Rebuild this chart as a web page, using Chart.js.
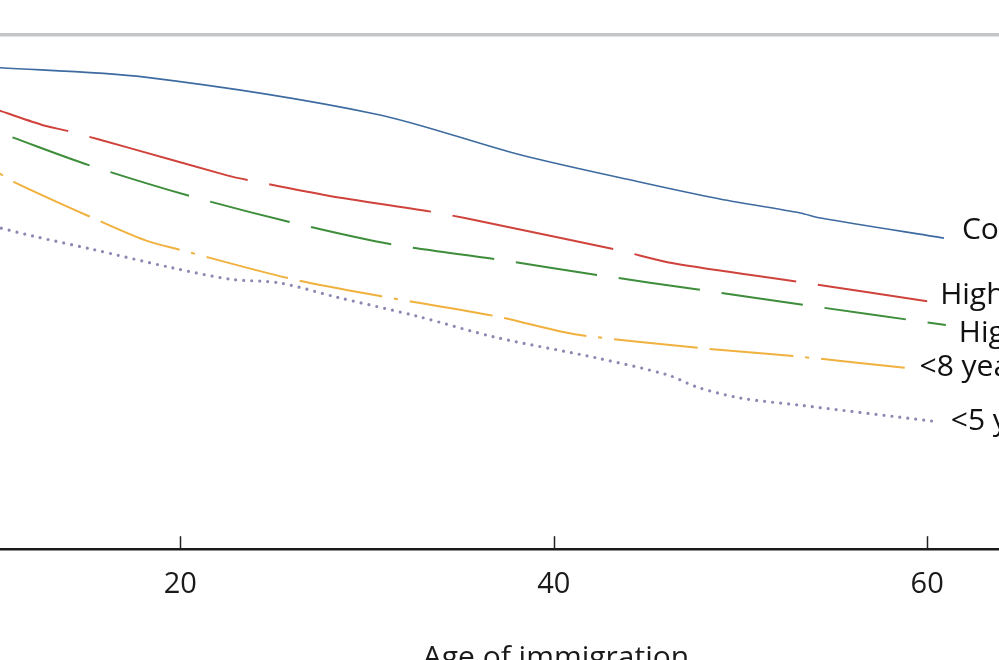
<!DOCTYPE html>
<html>
<head>
<meta charset="utf-8">
<script src="https://cdn.jsdelivr.net/npm/chart.js@4"></script>
<style>
  html, body { margin: 0; padding: 0; background: #fff; overflow: hidden; }
  #wrap { width: 999px; height: 660px; overflow: hidden; position: relative; }
  #myChart { display: block; }
</style>
</head>
<body>
<div id="wrap"><canvas id="myChart" width="1112" height="692"></canvas></div>
<script>
// age of immigration (x) and values (y) for each group
var collegeAge = [10, 18.1, 30.5, 38.2, 44.6, 48.9, 53.2, 54.3, 60.9];
var collegeVal = [93.7, 91.8, 84.6, 76.7, 71.4, 68.1, 65.4, 64.4, 60.5];

var highAge = [10, 12.6, 14.0, 17.3, 22.5, 23.6, 28.0, 33.5, 37.1, 43.4, 46.4, 53.3, 60.0];
var highVal = [85.7, 82.5, 81.3, 78.0, 72.7, 71.8, 68.7, 65.6, 63.0, 58.2, 55.6, 51.9, 48.2];

var high2Age = [10, 11.0, 15.1, 20.5, 25.9, 31.3, 36.9, 42.4, 47.9, 53.4, 61.0];
var high2Val = [81.4, 80.1, 74.7, 68.7, 63.6, 59.3, 56.4, 53.3, 50.4, 47.5, 43.6];

var eightAge = [10, 11.1, 15.2, 18.1, 20.0, 25.8, 30.9, 36.9, 40.3, 41.9, 47.9, 53.0, 59.0];
var eightVal = [73.8, 71.4, 64.6, 60.1, 58.2, 52.7, 49.1, 45.3, 42.4, 41.4, 39.1, 37.5, 35.2];

var fiveAge = [10, 12.1, 15.2, 19.6, 22.7, 25.3, 28.4, 32.7, 36.9, 42.3, 46.1, 47.7, 50.0, 53.2, 60.3];
var fiveVal = [62.8, 60.9, 58.4, 54.7, 52.5, 51.8, 49.0, 45.3, 41.2, 37.2, 33.9, 31.5, 29.4, 28.0, 24.9];

var labels = ['College graduate', 'High school graduate', 'High school dropout', '<8 years schooling', '<5 years schooling'];
var xTicks = [20, 40, 60];

function pts(xs, ys) {
    return xs.map(function (x, i) { return { x: x, y: ys[i] }; });
}

// right-hand line labels, drawn at the end of each line
var endLabels = {
    id: 'endLabels',
    afterDatasetsDraw: function (chart) {
        var ctx = chart.ctx;
        var offs = [[18, -8], [13, -6], [13, 8], [11, -1], [18, 0]];
        ctx.save();
        ctx.font = '30px "Open Sans"';
        ctx.fillStyle = '#111';
        ctx.textBaseline = 'middle';
        chart.data.datasets.forEach(function (ds, i) {
            var meta = chart.getDatasetMeta(i);
            var p = meta.data[meta.data.length - 1];
            ctx.fillText(ds.label, p.x + offs[i][0], p.y + offs[i][1]);
        });
        ctx.restore();
    }
};

// top frame line and inward ticks on the x axis
var frame = {
    id: 'frame',
    afterDraw: function (chart) {
        var ctx = chart.ctx;
        var a = chart.chartArea;
        var xs = chart.scales.x;
        ctx.save();
        ctx.fillStyle = '#c4c5c9';
        ctx.fillRect(0, a.top - 2, chart.width, 3);
        ctx.fillStyle = '#e2e3e6';
        ctx.fillRect(0, a.top + 1, chart.width, 1);
        ctx.strokeStyle = '#222';
        ctx.lineWidth = 1.5;
        xs.ticks.forEach(function (t) {
            var px = Math.round(xs.getPixelForValue(t.value)) + 0.5;
            ctx.beginPath();
            ctx.moveTo(px, a.bottom);
            ctx.lineTo(px, a.bottom - 13);
            ctx.stroke();
        });
        ctx.restore();
    }
};

var data = {
    datasets: [{
        label: labels[0],
        data: pts(collegeAge, collegeVal),
        borderColor: '#3d6ba0',
        borderWidth: 1.6
    }, {
        label: labels[1],
        data: pts(highAge, highVal),
        borderColor: '#d0433c',
        borderWidth: 2,
        borderDash: [164, 22],
        borderDashOffset: 86
    }, {
        label: labels[2],
        data: pts(high2Age, high2Val),
        borderColor: '#3d8d3a',
        borderWidth: 2,
        borderDash: [82, 22],
        borderDashOffset: 84
    }, {
        label: labels[3],
        data: pts(eightAge, eightVal),
        borderColor: '#f1b13e',
        borderWidth: 2,
        borderDash: [84, 12, 84, 12, 4, 12],
        borderDashOffset: 185
    }, {
        label: labels[4],
        data: pts(fiveAge, fiveVal),
        borderColor: '#8b89b2',
        borderWidth: 3.2,
        borderCapStyle: 'round',
        borderDash: [0, 8]
    }]
};

var config = {
    type: 'line',
    data: data,
    options: {
        responsive: false,
        animation: false,
        events: [],
        layout: { padding: { top: 35, left: 0, right: 0, bottom: 0 } },
        elements: { point: { radius: 0 }, line: { tension: 0.3, fill: false } },
        plugins: { legend: { display: false }, tooltip: { enabled: false } },
        scales: {
            x: {
                type: 'linear',
                min: 10.34,
                max: 69.9,
                afterBuildTicks: function (scale) {
                    scale.ticks = xTicks.map(function (v) { return { value: v }; });
                },
                grid: { display: false, drawTicks: false },
                border: { display: true, color: '#1a1a1a', width: 2.5 },
                ticks: {
                    padding: 18,
                    color: '#1a1a1a',
                    font: { family: '"Open Sans"', size: 29 }
                },
                title: {
                    display: true,
                    text: 'Age of immigration',
                    color: '#1a1a1a',
                    font: { family: '"Open Sans"', size: 30 },
                    padding: { top: 20, bottom: 16 }
                }
            },
            y: {
                display: false,
                min: 0,
                max: 100
            }
        }
    },
    plugins: [endLabels, frame]
};

var myChart = new Chart(document.getElementById('myChart'), config);
</script>
</body>
</html>
